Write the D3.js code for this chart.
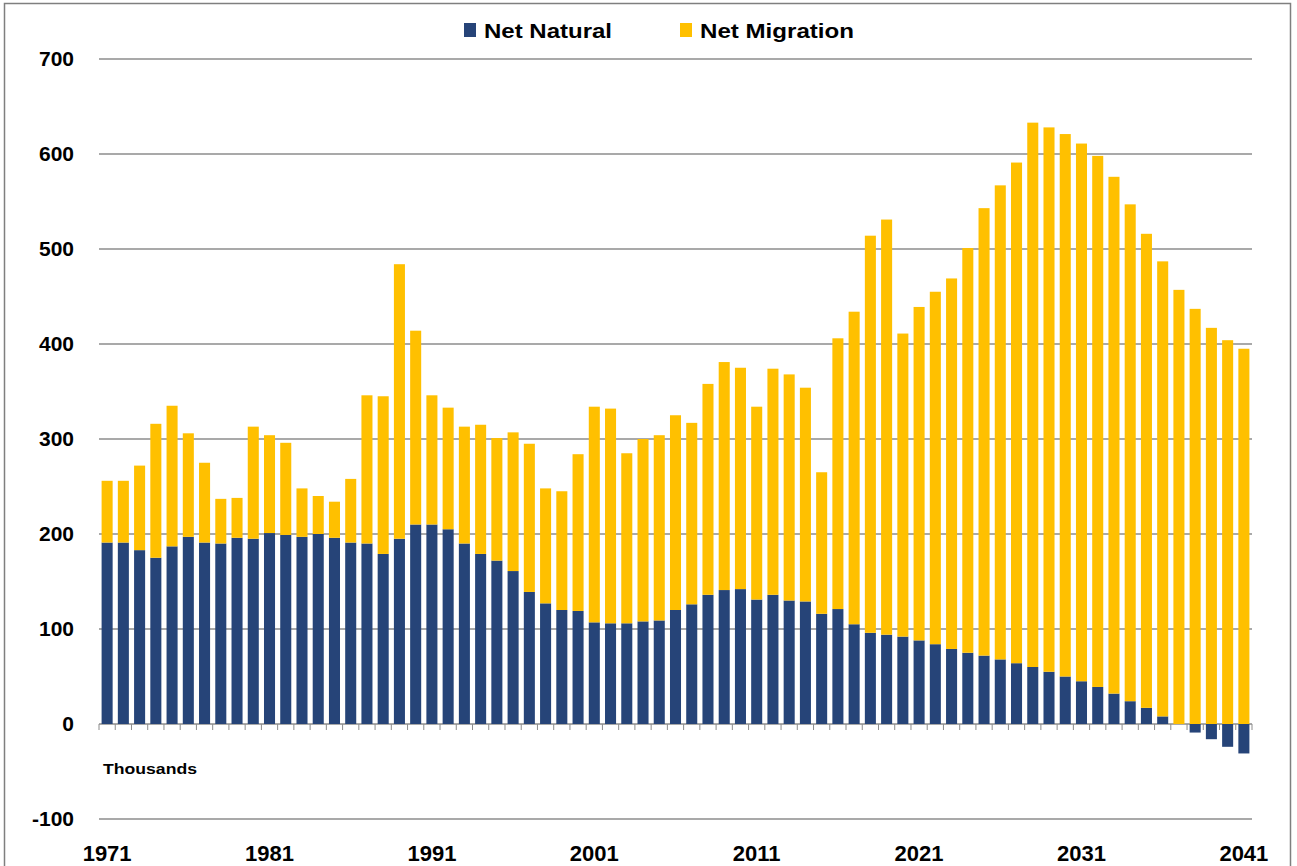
<!DOCTYPE html>
<html>
<head>
<meta charset="utf-8">
<script src="https://cdn.jsdelivr.net/npm/d3@7"></script>
<style>
  body { margin: 0; background: #fff; }
  text { font-family: "Liberation Sans", Arial, sans-serif; font-weight: bold; fill: #000; }
</style>
</head>
<body>
<div id="vis"></div>
<script>

const FRAME_WIDTH = 1297;
const FRAME_HEIGHT = 866;
const MARGINS = {left: 99, right: 44, top: 59, bottom: 47};

// years 1971..2041
const years = d3.range(1971, 2042);

// thousands
const netNatural = [191, 191, 183, 175, 187, 197, 191, 190, 196, 195,
                    201, 199, 197, 200, 196, 191, 190, 179, 195, 210,
                    210, 205, 190, 179, 172, 161, 139, 127, 120, 119,
                    107, 106, 106, 108, 109, 120, 126, 136, 141, 142,
                    131, 136, 130, 129, 116, 121, 105, 96, 94, 92,
                    88, 84, 79, 75, 72, 68, 64, 60, 55, 50,
                    45, 39, 32, 24, 17, 8, 0, -9, -16, -24,
                    -31];

const netMigration = [65, 65, 89, 141, 148, 109, 84, 47, 42, 118,
                      103, 97, 51, 40, 38, 67, 156, 166, 289, 204,
                      136, 128, 123, 136, 129, 146, 156, 121, 125, 165,
                      227, 226, 179, 192, 195, 205, 191, 222, 240, 233,
                      203, 238, 238, 225, 149, 285, 329, 418, 437, 319,
                      351, 371, 390, 426, 471, 499, 527, 573, 573, 571,
                      566, 559, 544, 523, 499, 479, 457, 437, 417, 404,
                      395];

const yTicks = [-100, 0, 100, 200, 300, 400, 500, 600, 700];
const xLabels = [1971, 1981, 1991, 2001, 2011, 2021, 2031, 2041];

const seriesKeys = ["natural", "migration"];
const seriesNames = ["Net Natural", "Net Migration"];
const COLORS = ["#264478", "#FFC000"];

const table = years.map((y, i) => ({year: y, natural: netNatural[i], migration: netMigration[i]}));

const svg = d3.select("#vis")
              .append("svg")
                .attr("width", FRAME_WIDTH)
                .attr("height", FRAME_HEIGHT);

// outer frame
svg.append("rect")
    .attr("x", 4.5).attr("y", 3.5)
    .attr("width", 1286).attr("height", 880)
    .attr("fill", "none")
    .attr("stroke", "#7f7f7f")
    .attr("stroke-width", 1.5);

const X_SCALE = d3.scaleBand()
                  .domain(years)
                  .range([MARGINS.left, FRAME_WIDTH - MARGINS.right - 1])
                  .paddingInner(0.32)
                  .paddingOuter(0.16);

const Y_SCALE = d3.scaleLinear()
                  .domain([-100, 700])
                  .range([819, 59]);

const x0 = X_SCALE.range()[0];
const x1 = X_SCALE.range()[1];

// gridlines
svg.append("g")
   .selectAll("line")
   .data(yTicks)
   .enter()
   .append("line")
     .attr("x1", x0).attr("x2", x1)
     .attr("y1", d => Y_SCALE(d)).attr("y2", d => Y_SCALE(d))
     .attr("stroke", "#8c8c8c")
     .attr("stroke-width", 1.5);

// y labels
svg.append("g")
   .selectAll("text")
   .data(yTicks)
   .enter()
   .append("text")
     .attr("x", 74)
     .attr("y", d => Y_SCALE(d) + 7)
     .attr("text-anchor", "end")
     .attr("font-size", "21px")
     .text(d => d);

// stacked bars
const stack = d3.stack().keys(seriesKeys).offset(d3.stackOffsetDiverging);
const layers = stack(table);

svg.append("g")
   .selectAll("g")
   .data(layers)
   .enter()
   .append("g")
     .attr("fill", (d, i) => COLORS[i])
   .selectAll("rect")
   .data(d => d)
   .enter()
   .append("rect")
     .attr("x", d => X_SCALE(d.data.year))
     .attr("width", X_SCALE.bandwidth())
     .attr("y", d => Y_SCALE(Math.max(d[0], d[1])))
     .attr("height", d => Math.abs(Y_SCALE(d[0]) - Y_SCALE(d[1])));

// category tick marks on the zero line
const step = X_SCALE.step();
const off = (step - X_SCALE.bandwidth()) / 2;
const tickXs = years.map(y => X_SCALE(y) - off).concat([X_SCALE(2041) + X_SCALE.bandwidth() + off]);

svg.append("g")
   .selectAll("line")
   .data(tickXs)
   .enter()
   .append("line")
     .attr("x1", d => d).attr("x2", d => d)
     .attr("y1", Y_SCALE(0)).attr("y2", Y_SCALE(0) + 6)
     .attr("stroke", "#8c8c8c")
     .attr("stroke-width", 1);

// x labels
svg.append("g")
   .selectAll("text")
   .data(xLabels)
   .enter()
   .append("text")
     .attr("x", d => X_SCALE(d) + X_SCALE.bandwidth() / 2)
     .attr("y", 861)
     .attr("text-anchor", "middle")
     .attr("font-size", "22px")
     .text(d => d);

svg.append("text")
   .attr("x", 103)
   .attr("y", 774)
   .attr("font-size", "15px")
   .attr("textLength", 94)
   .attr("lengthAdjust", "spacingAndGlyphs")
   .text("Thousands");

// legend
const legendX = [464, 680];
const legendW = [128, 154];
const legend = svg.append("g");
seriesNames.forEach((name, i) => {
  legend.append("rect")
        .attr("x", legendX[i]).attr("y", 23)
        .attr("width", 12).attr("height", 14)
        .attr("fill", COLORS[i]);
  legend.append("text")
        .attr("x", legendX[i] + 20)
        .attr("y", 38)
        .attr("font-size", "21px")
        .attr("textLength", legendW[i])
        .attr("lengthAdjust", "spacingAndGlyphs")
        .text(name);
});

</script>
</body>
</html>
